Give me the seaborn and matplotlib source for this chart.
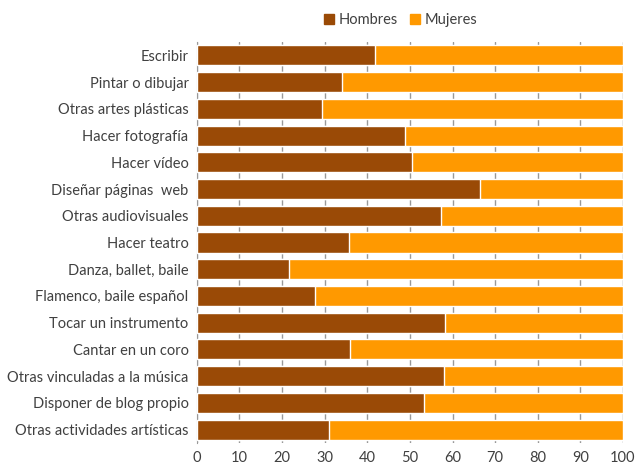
import matplotlib
matplotlib.use("Agg")
import matplotlib.pyplot as plt
import pandas as pd
import seaborn as sns
from matplotlib.patches import Patch

categorias = [
    "Escribir", "Pintar o dibujar", "Otras artes plásticas", "Hacer fotografía",
    "Hacer vídeo", "Diseñar páginas  web", "Otras audiovisuales", "Hacer teatro",
    "Danza, ballet, baile", "Flamenco, baile español", "Tocar un instrumento",
    "Cantar en un coro", "Otras vinculadas a la música", "Disponer de blog propio",
    "Otras actividades artísticas",
]
hombres = [41.8, 34.0, 29.4, 48.8, 50.5, 66.4, 57.3, 35.7, 21.6, 27.7, 58.2, 35.9, 58.0, 53.3, 31.0]
mujeres = [100 - h for h in hombres]
xticks = list(range(0, 101, 10))

COLOR_H = "#9A4A06"
COLOR_M = "#FF9900"
TEXT = "#404040"

df = pd.DataFrame({"categoria": categorias, "hombres": hombres, "mujeres": mujeres})
df["total"] = df["hombres"] + df["mujeres"]

sns.set_style("white")
plt.rcParams["font.family"] = ["Lato", "DejaVu Sans"]

fig = plt.figure(figsize=(6.35, 4.69), dpi=100)
ax = fig.add_axes([0.310, 0.0554, 0.671, 0.855])

# barra completa (mujeres) debajo, hombres encima
sns.barplot(data=df, y="categoria", x="total", color=COLOR_M, orient="h",
            width=0.75, ax=ax, saturation=1, zorder=2)
sns.barplot(data=df, y="categoria", x="hombres", color=COLOR_H, orient="h",
            width=0.75, ax=ax, saturation=1, zorder=3)

ax.set_xlim(0, 100)
ax.set_xticks(xticks)
ax.xaxis.grid(True, color="#999999", linewidth=1, zorder=0)
ax.set_axisbelow(True)
ax.set_xlabel("")
ax.set_ylabel("")
for s in ["top", "right", "bottom"]:
    ax.spines[s].set_visible(False)
ax.spines["left"].set_color("#999999")
ax.tick_params(axis="both", length=0, labelsize=10.5, colors=TEXT)
ax.tick_params(axis="x", pad=6)
ax.tick_params(axis="y", pad=6)

handles = [Patch(color=COLOR_H, label="Hombres"), Patch(color=COLOR_M, label="Mujeres")]
fig.legend(handles=handles, loc="upper center", bbox_to_anchor=(0.631, 1.0), ncol=2,
           frameon=False, handlelength=0.7, handleheight=0.7, handletextpad=0.3,
           columnspacing=0.8, fontsize=10.5, labelcolor=TEXT)

fig.savefig("out.png", dpi=100)
